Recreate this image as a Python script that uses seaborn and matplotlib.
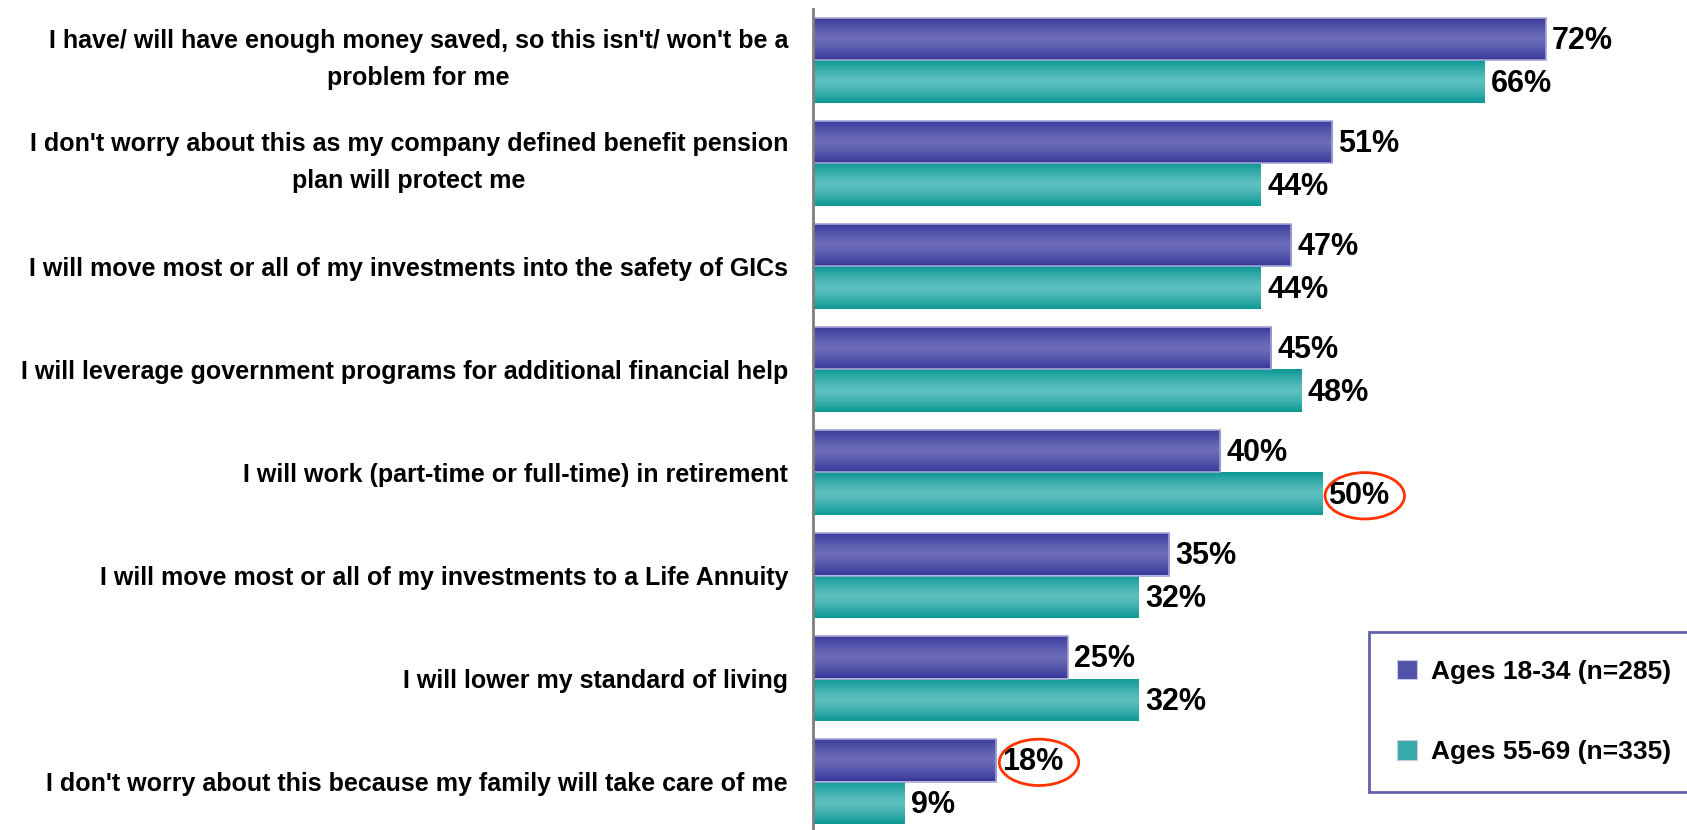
import numpy as np
import pandas as pd
import matplotlib
matplotlib.use('Agg')
import matplotlib.pyplot as plt
import matplotlib.transforms as mtransforms
import seaborn as sns
from matplotlib.patches import Patch, Ellipse

# data
categories = [
    "I have/ will have enough money saved, so this isn't/ won't be a\nproblem for me",
    "I don't worry about this as my company defined benefit pension\nplan will protect me",
    "I will move most or all of my investments into the safety of GICs",
    "I will leverage government programs for additional financial help",
    "I will work (part-time or full-time) in retirement",
    "I will move most or all of my investments to a Life Annuity",
    "I will lower my standard of living",
    "I don't worry about this because my family will take care of me",
]
groups = ["Ages 18-34 (n=285)", "Ages 55-69 (n=335)"]
young = [72, 51, 47, 45, 40, 35, 25, 18]
older = [66, 44, 44, 48, 50, 32, 32, 9]
# which labels get a red ring: (category index, group index)
circled = [(4, 1), (7, 0)]

df = pd.DataFrame({
    'category': categories * 2,
    'group': [groups[0]] * len(categories) + [groups[1]] * len(categories),
    'value': young + older,
})

sns.set_style('white')
plt.rcParams['font.family'] = ['Liberation Sans', 'DejaVu Sans']
plt.rcParams['font.weight'] = 'bold'
plt.rcParams['text.color'] = 'black'
plt.rcParams['ytick.color'] = 'black'

fig = plt.figure(figsize=(16.87, 8.30), dpi=100)
ax = fig.add_axes([813 / 1687, -3 / 830, 874 / 1687, 824 / 830])

palette = {groups[0]: '#5252a8', groups[1]: '#35aaa8'}
sns.barplot(data=df, y='category', x='value', hue='group', hue_order=groups,
            order=categories, palette=palette, width=0.825, orient='h',
            legend=False, ax=ax)

# gradient fill (dark edges, light middle) clipped to each bar
grad_cols = {
    groups[0]: ('#38389a', '#6c6cb9'),
    groups[1]: ('#0c9894', '#5dc0c0'),
}
t = np.linspace(0, 1, 64)
shape = 1 - np.abs(2 * t - 1) ** 1.3
bars = ax.patches[:len(categories) * 2]
for k, bar in enumerate(bars):
    g = groups[k // len(categories)]
    c0 = np.array(matplotlib.colors.to_rgb(grad_cols[g][0]))
    c1 = np.array(matplotlib.colors.to_rgb(grad_cols[g][1]))
    img = c0[None, :] + shape[:, None] * (c1 - c0)[None, :]
    img = img[:, None, :]
    x0, y0 = bar.get_x(), bar.get_y()
    w, h = bar.get_width(), bar.get_height()
    bar.set_facecolor('none')
    if g == groups[0]:
        bar.set_edgecolor('#a4a4d6')
        bar.set_linewidth(1.2)
    else:
        bar.set_edgecolor('none')
    im = ax.imshow(img, extent=(x0, x0 + w, y0 + h, y0), aspect='auto',
                   interpolation='bilinear', zorder=bar.get_zorder() - 0.1)
    im.set_clip_path(bar)

ax.set_xlim(0, 85.85)
ax.set_ylim(len(categories) - 0.5, -0.5)

# value labels
for k, bar in enumerate(bars):
    gi = k // len(categories)
    ci = k % len(categories)
    val = (young, older)[gi][ci]
    ax.text(bar.get_width() + 0.6, bar.get_y() + bar.get_height() / 2 + 0.02,
            f'{val}%', va='center', ha='left', fontsize=22, fontweight='bold',
            color='black')

# red rings
offs = [-0.206, 0.206]
for ci, gi in circled:
    val = (young, older)[gi][ci]
    e = Ellipse((val + 4.2, ci + offs[gi] + 0.02), width=7.8, height=0.45,
                fill=False, edgecolor='#ff3300', linewidth=2, zorder=5)
    ax.add_patch(e)

# axes styling
for s in ['top', 'right', 'bottom']:
    ax.spines[s].set_visible(False)
ax.spines['left'].set_color('#7f7f7f')
ax.spines['left'].set_linewidth(2)
ax.set_xticks([])
ax.set_xlabel('')
ax.set_ylabel('')
ax.set_yticks(range(len(categories)))
ax.set_yticklabels(categories, fontsize=18, fontweight='bold', ha='right',
                   multialignment='center', linespacing=1.7, color='black')
ax.tick_params(axis='y', which='major', length=0, pad=18)
# two-line labels sit a bit higher in the reference
lift = mtransforms.ScaledTranslation(0, 10 / 100, fig.dpi_scale_trans)
for lab in ax.get_yticklabels():
    if '\n' in lab.get_text():
        lab.set_transform(lab.get_transform() + lift)
ax.set_yticks(np.arange(-0.5, len(categories)), minor=True)
ax.tick_params(axis='y', which='minor', length=8, width=1.5, color='#333333',
               direction='out')

handles = [Patch(facecolor=palette[g], edgecolor='#c8c8e6', linewidth=0.8) for g in groups]
leg = fig.legend(handles, groups, loc='lower left',
                 bbox_to_anchor=(1369 / 1687, 1 - 792 / 830), borderaxespad=0,
                 frameon=True, fancybox=False, labelspacing=2.15,
                 handlelength=0.75, handleheight=0.75, handletextpad=0.55,
                 borderpad=1.05, prop={'weight': 'bold', 'size': 19})
leg.get_frame().set_edgecolor('#3b3b96')
leg.get_frame().set_linewidth(2)
for txt in leg.get_texts():
    txt.set_color('black')

fig.savefig('out.png', dpi=100)
